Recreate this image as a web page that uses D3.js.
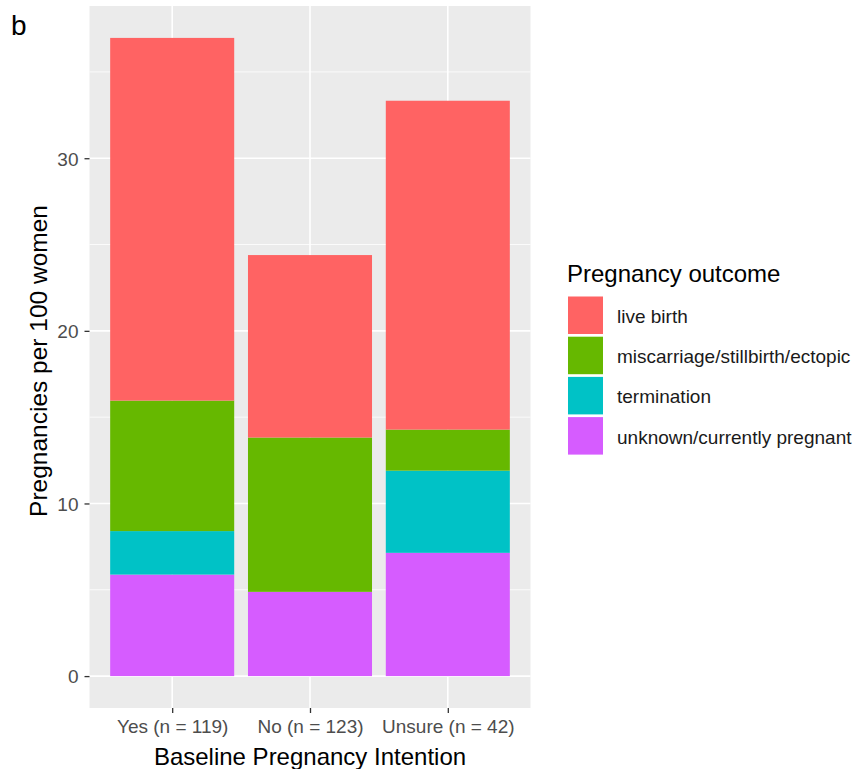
<!DOCTYPE html>
<html>
<head>
<meta charset="utf-8">
<script src="https://cdn.jsdelivr.net/npm/d3@7"></script>
<style>
  body { margin: 0; background: #fff; }
  text { font-family: "Liberation Sans", Arial, sans-serif; }
</style>
</head>
<body>
<svg width="857" height="769"></svg>
<script>
// pregnancies per 100 women, by baseline intention
var groups = ["Yes (n = 119)", "No (n = 123)", "Unsure (n = 42)"];
var outcomes = ["live birth", "miscarriage/stillbirth/ectopic", "termination", "unknown/currently pregnant"];
var fills  = ["#FF6363", "#66B800", "#00C2C6", "#D65CFF"];

var liveBirth   = [21.01, 10.57, 19.05];
var miscarriage = [7.56, 8.94, 2.38];
var termination = [2.52, 0, 4.76];
var unknown     = [5.88, 4.88, 7.14];
var yTicks = [0, 10, 20, 30];
var yMinor = [5, 15, 25, 35];

var svg = d3.select("svg");
var panel = {left: 89.5, right: 530.5, top: 6, bottom: 708};

// rows for stacking
var rows = groups.map(function(g, i) {
  return {group: g,
    "live birth": liveBirth[i],
    "miscarriage/stillbirth/ectopic": miscarriage[i],
    "termination": termination[i],
    "unknown/currently pregnant": unknown[i]};
});
// first level ends up on top, like ggplot
var series = d3.stack().keys(outcomes.slice().reverse())(rows);

var ymax = d3.max(rows, function(d) { return d3.sum(outcomes, function(k) { return d[k]; }); });
var y = d3.scaleLinear()
  .domain([-ymax * 0.05, ymax * 1.05])
  .range([panel.bottom, panel.top]);

// discrete x with 0.6 expansion each side
var x = d3.scalePoint().domain(groups)
  .range([panel.left, panel.right]).padding(0.6);
var bw = 0.9 * x.step();

var color = d3.scaleOrdinal().domain(outcomes).range(fills);

// panel
svg.append("rect")
  .attr("x", panel.left).attr("y", panel.top)
  .attr("width", panel.right - panel.left).attr("height", panel.bottom - panel.top)
  .attr("fill", "#EBEBEB");

svg.selectAll(".minor").data(yMinor).enter().append("line")
  .attr("x1", panel.left).attr("x2", panel.right)
  .attr("y1", function(d) { return y(d); }).attr("y2", function(d) { return y(d); })
  .attr("stroke", "#fff").attr("stroke-width", 0.8);
svg.selectAll(".majorY").data(yTicks).enter().append("line")
  .attr("x1", panel.left).attr("x2", panel.right)
  .attr("y1", function(d) { return y(d); }).attr("y2", function(d) { return y(d); })
  .attr("stroke", "#fff").attr("stroke-width", 1.6);
svg.selectAll(".majorX").data(groups).enter().append("line")
  .attr("y1", panel.top).attr("y2", panel.bottom)
  .attr("x1", function(d) { return x(d); }).attr("x2", function(d) { return x(d); })
  .attr("stroke", "#fff").attr("stroke-width", 1.6);

// bars
svg.append("g").selectAll("g").data(series).enter().append("g")
  .attr("fill", function(d) { return color(d.key); })
  .selectAll("rect").data(function(d) { return d; }).enter().append("rect")
  .attr("x", function(d) { return x(d.data.group) - bw / 2; })
  .attr("width", bw)
  .attr("y", function(d) { return y(d[1]); })
  .attr("height", function(d) { return y(d[0]) - y(d[1]); });

// y axis
var yAxis = svg.append("g")
  .attr("transform", "translate(" + panel.left + ",0)")
  .call(d3.axisLeft(y).tickValues(yTicks).tickSize(5).tickPadding(6));
yAxis.select(".domain").remove();
yAxis.selectAll("line").attr("stroke", "#333").attr("stroke-width", 1.3);
yAxis.selectAll("text").attr("fill", "#4D4D4D").attr("dy", "0.36em")
  .style("font-size", "19px").style("font-family", "Liberation Sans, Arial, sans-serif");

// x axis
var xAxis = svg.append("g")
  .attr("transform", "translate(0," + panel.bottom + ")")
  .call(d3.axisBottom(x).tickSize(5).tickPadding(7));
xAxis.select(".domain").remove();
xAxis.selectAll("line").attr("stroke", "#333").attr("stroke-width", 1.3);
xAxis.selectAll("text").attr("fill", "#4D4D4D")
  .style("font-size", "19px").style("font-family", "Liberation Sans, Arial, sans-serif");

// axis titles
svg.append("text")
  .attr("x", (panel.left + panel.right) / 2).attr("y", 765)
  .attr("text-anchor", "middle").style("font-size", "24px").attr("fill", "#000")
  .text("Baseline Pregnancy Intention");
svg.append("text")
  .attr("transform", "translate(47,361) rotate(-90)")
  .attr("text-anchor", "middle").style("font-size", "24.5px").attr("fill", "#000")
  .text("Pregnancies per 100 women");

// panel tag
svg.append("text").attr("x", 11).attr("y", 35).style("font-size", "28px").text("b");

// legend
var lg = svg.append("g").attr("transform", "translate(568,0)");
lg.append("text").attr("x", -1).attr("y", 281.5).style("font-size", "24px").text("Pregnancy outcome");
var item = lg.selectAll(".item").data(outcomes).enter().append("g")
  .attr("transform", function(d, i) { return "translate(0," + (296.5 + i * 40.2) + ")"; });
item.append("rect").attr("width", 35).attr("height", 37.5)
  .attr("fill", function(d) { return color(d); });
item.append("text").attr("x", 49).attr("y", 26.5).style("font-size", "19px").attr("fill", "#1A1A1A")
  .text(function(d) { return d; });
</script>
</body>
</html>
